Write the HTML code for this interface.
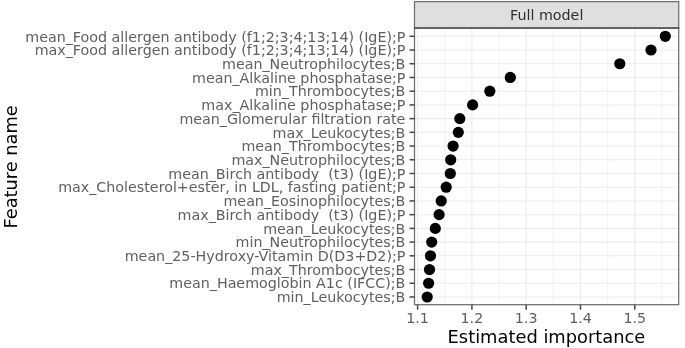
<!DOCTYPE html>
<html><head><meta charset="utf-8"><title>Feature importance</title>
<style>
html,body{margin:0;padding:0;background:#fff;}
body{width:685px;height:348px;overflow:hidden;}
svg{display:block;}
text{font-family:"DejaVu Sans","Liberation Sans",sans-serif;}
.yl{font-size:14.28px;fill:#5f5f5f;text-anchor:end;}
.xl{font-size:14.28px;fill:#5f5f5f;text-anchor:middle;}
.ti{font-size:17.85px;fill:#000;text-anchor:middle;}
.st{font-size:14.28px;fill:#2e2e2e;text-anchor:middle;}
</style></head><body>
<svg width="685" height="348" viewBox="0 0 685 348">
<rect x="0" y="0" width="685" height="348" fill="#ffffff"/>

<rect x="414.5" y="28.0" width="264.20000000000005" height="276.7" fill="#ffffff"/>
<g stroke="#ebebeb" stroke-width="0.6">
<line x1="444.75" y1="28.0" x2="444.75" y2="304.7"/>
<line x1="499.05" y1="28.0" x2="499.05" y2="304.7"/>
<line x1="553.35" y1="28.0" x2="553.35" y2="304.7"/>
<line x1="607.65" y1="28.0" x2="607.65" y2="304.7"/>
<line x1="661.95" y1="28.0" x2="661.95" y2="304.7"/>
</g>
<g stroke="#ebebeb" stroke-width="1.05">
<line x1="417.6" y1="28.0" x2="417.6" y2="304.7"/>
<line x1="471.9" y1="28.0" x2="471.9" y2="304.7"/>
<line x1="526.2" y1="28.0" x2="526.2" y2="304.7"/>
<line x1="580.5" y1="28.0" x2="580.5" y2="304.7"/>
<line x1="634.8" y1="28.0" x2="634.8" y2="304.7"/>
<line x1="414.5" y1="36.30" x2="678.7" y2="36.30"/>
<line x1="414.5" y1="50.02" x2="678.7" y2="50.02"/>
<line x1="414.5" y1="63.74" x2="678.7" y2="63.74"/>
<line x1="414.5" y1="77.46" x2="678.7" y2="77.46"/>
<line x1="414.5" y1="91.18" x2="678.7" y2="91.18"/>
<line x1="414.5" y1="104.90" x2="678.7" y2="104.90"/>
<line x1="414.5" y1="118.62" x2="678.7" y2="118.62"/>
<line x1="414.5" y1="132.34" x2="678.7" y2="132.34"/>
<line x1="414.5" y1="146.06" x2="678.7" y2="146.06"/>
<line x1="414.5" y1="159.78" x2="678.7" y2="159.78"/>
<line x1="414.5" y1="173.50" x2="678.7" y2="173.50"/>
<line x1="414.5" y1="187.22" x2="678.7" y2="187.22"/>
<line x1="414.5" y1="200.94" x2="678.7" y2="200.94"/>
<line x1="414.5" y1="214.66" x2="678.7" y2="214.66"/>
<line x1="414.5" y1="228.38" x2="678.7" y2="228.38"/>
<line x1="414.5" y1="242.10" x2="678.7" y2="242.10"/>
<line x1="414.5" y1="255.82" x2="678.7" y2="255.82"/>
<line x1="414.5" y1="269.54" x2="678.7" y2="269.54"/>
<line x1="414.5" y1="283.26" x2="678.7" y2="283.26"/>
<line x1="414.5" y1="296.98" x2="678.7" y2="296.98"/>
</g>
<g fill="#000000">
<circle cx="665.3" cy="36.30" r="5.6"/>
<circle cx="651.0" cy="50.02" r="5.6"/>
<circle cx="619.8" cy="63.74" r="5.6"/>
<circle cx="510.3" cy="77.46" r="5.6"/>
<circle cx="489.8" cy="91.18" r="5.6"/>
<circle cx="472.6" cy="104.90" r="5.6"/>
<circle cx="459.8" cy="118.62" r="5.6"/>
<circle cx="458.3" cy="132.34" r="5.6"/>
<circle cx="453.1" cy="146.06" r="5.6"/>
<circle cx="450.7" cy="159.78" r="5.6"/>
<circle cx="450.3" cy="173.50" r="5.6"/>
<circle cx="446.2" cy="187.22" r="5.6"/>
<circle cx="441.2" cy="200.94" r="5.6"/>
<circle cx="439.1" cy="214.66" r="5.6"/>
<circle cx="435.3" cy="228.38" r="5.6"/>
<circle cx="431.7" cy="242.10" r="5.6"/>
<circle cx="430.5" cy="255.82" r="5.6"/>
<circle cx="429.5" cy="269.54" r="5.6"/>
<circle cx="428.6" cy="283.26" r="5.6"/>
<circle cx="427.2" cy="296.98" r="5.6"/>
</g>
<rect x="414.5" y="28.0" width="264.20000000000005" height="276.7" fill="none" stroke="#6e6e6e" stroke-width="1.25"/>
<rect x="414.5" y="1.6" width="264.20000000000005" height="26.4" fill="#dfdfdf" stroke="#6e6e6e" stroke-width="1.25"/>
<text class="st" x="546.7" y="19.6">Full model</text>
<line x1="413.9" y1="28.0" x2="679.3000000000001" y2="28.0" stroke="#555555" stroke-width="1.5"/>
<g stroke="#484848" stroke-width="1.5">
<line x1="409.5" y1="36.30" x2="414.5" y2="36.30"/>
<line x1="409.5" y1="50.02" x2="414.5" y2="50.02"/>
<line x1="409.5" y1="63.74" x2="414.5" y2="63.74"/>
<line x1="409.5" y1="77.46" x2="414.5" y2="77.46"/>
<line x1="409.5" y1="91.18" x2="414.5" y2="91.18"/>
<line x1="409.5" y1="104.90" x2="414.5" y2="104.90"/>
<line x1="409.5" y1="118.62" x2="414.5" y2="118.62"/>
<line x1="409.5" y1="132.34" x2="414.5" y2="132.34"/>
<line x1="409.5" y1="146.06" x2="414.5" y2="146.06"/>
<line x1="409.5" y1="159.78" x2="414.5" y2="159.78"/>
<line x1="409.5" y1="173.50" x2="414.5" y2="173.50"/>
<line x1="409.5" y1="187.22" x2="414.5" y2="187.22"/>
<line x1="409.5" y1="200.94" x2="414.5" y2="200.94"/>
<line x1="409.5" y1="214.66" x2="414.5" y2="214.66"/>
<line x1="409.5" y1="228.38" x2="414.5" y2="228.38"/>
<line x1="409.5" y1="242.10" x2="414.5" y2="242.10"/>
<line x1="409.5" y1="255.82" x2="414.5" y2="255.82"/>
<line x1="409.5" y1="269.54" x2="414.5" y2="269.54"/>
<line x1="409.5" y1="283.26" x2="414.5" y2="283.26"/>
<line x1="409.5" y1="296.98" x2="414.5" y2="296.98"/>
<line x1="417.6" y1="304.7" x2="417.6" y2="309.7"/>
<line x1="471.9" y1="304.7" x2="471.9" y2="309.7"/>
<line x1="526.2" y1="304.7" x2="526.2" y2="309.7"/>
<line x1="580.5" y1="304.7" x2="580.5" y2="309.7"/>
<line x1="634.8" y1="304.7" x2="634.8" y2="309.7"/>
</g>
<text class="yl" x="405.4" y="41.50" xml:space="preserve">mean_Food allergen antibody (f1;2;3;4;13;14) (IgE);P</text>
<text class="yl" x="405.4" y="55.22" xml:space="preserve">max_Food allergen antibody (f1;2;3;4;13;14) (IgE);P</text>
<text class="yl" x="405.4" y="68.94" xml:space="preserve">mean_Neutrophilocytes;B</text>
<text class="yl" x="405.4" y="82.66" xml:space="preserve">mean_Alkaline phosphatase;P</text>
<text class="yl" x="405.4" y="96.38" xml:space="preserve">min_Thrombocytes;B</text>
<text class="yl" x="405.4" y="110.10" xml:space="preserve">max_Alkaline phosphatase;P</text>
<text class="yl" x="405.4" y="123.82" xml:space="preserve">mean_Glomerular filtration rate</text>
<text class="yl" x="405.4" y="137.54" xml:space="preserve">max_Leukocytes;B</text>
<text class="yl" x="405.4" y="151.26" xml:space="preserve">mean_Thrombocytes;B</text>
<text class="yl" x="405.4" y="164.98" xml:space="preserve">max_Neutrophilocytes;B</text>
<text class="yl" x="405.4" y="178.70" xml:space="preserve">mean_Birch antibody  (t3) (IgE);P</text>
<text class="yl" x="405.4" y="192.42" xml:space="preserve">max_Cholesterol+ester, in LDL, fasting patient;P</text>
<text class="yl" x="405.4" y="206.14" xml:space="preserve">mean_Eosinophilocytes;B</text>
<text class="yl" x="405.4" y="219.86" xml:space="preserve">max_Birch antibody  (t3) (IgE);P</text>
<text class="yl" x="405.4" y="233.58" xml:space="preserve">mean_Leukocytes;B</text>
<text class="yl" x="405.4" y="247.30" xml:space="preserve">min_Neutrophilocytes;B</text>
<text class="yl" x="405.4" y="261.02" xml:space="preserve">mean_25-Hydroxy-Vitamin D(D3+D2);P</text>
<text class="yl" x="405.4" y="274.74" xml:space="preserve">max_Thrombocytes;B</text>
<text class="yl" x="405.4" y="288.46" xml:space="preserve">mean_Haemoglobin A1c (IFCC);B</text>
<text class="yl" x="405.4" y="302.18" xml:space="preserve">min_Leukocytes;B</text>
<text class="xl" x="417.6" y="323.3">1.1</text>
<text class="xl" x="471.9" y="323.3">1.2</text>
<text class="xl" x="526.2" y="323.3">1.3</text>
<text class="xl" x="580.5" y="323.3">1.4</text>
<text class="xl" x="634.8" y="323.3">1.5</text>
<text class="ti" x="546.45" y="343.45">Estimated importance</text>
<text class="ti" style="font-size:17.8px" transform="translate(17.3,166.9) rotate(-90)">Feature name</text>
</svg></body></html>
